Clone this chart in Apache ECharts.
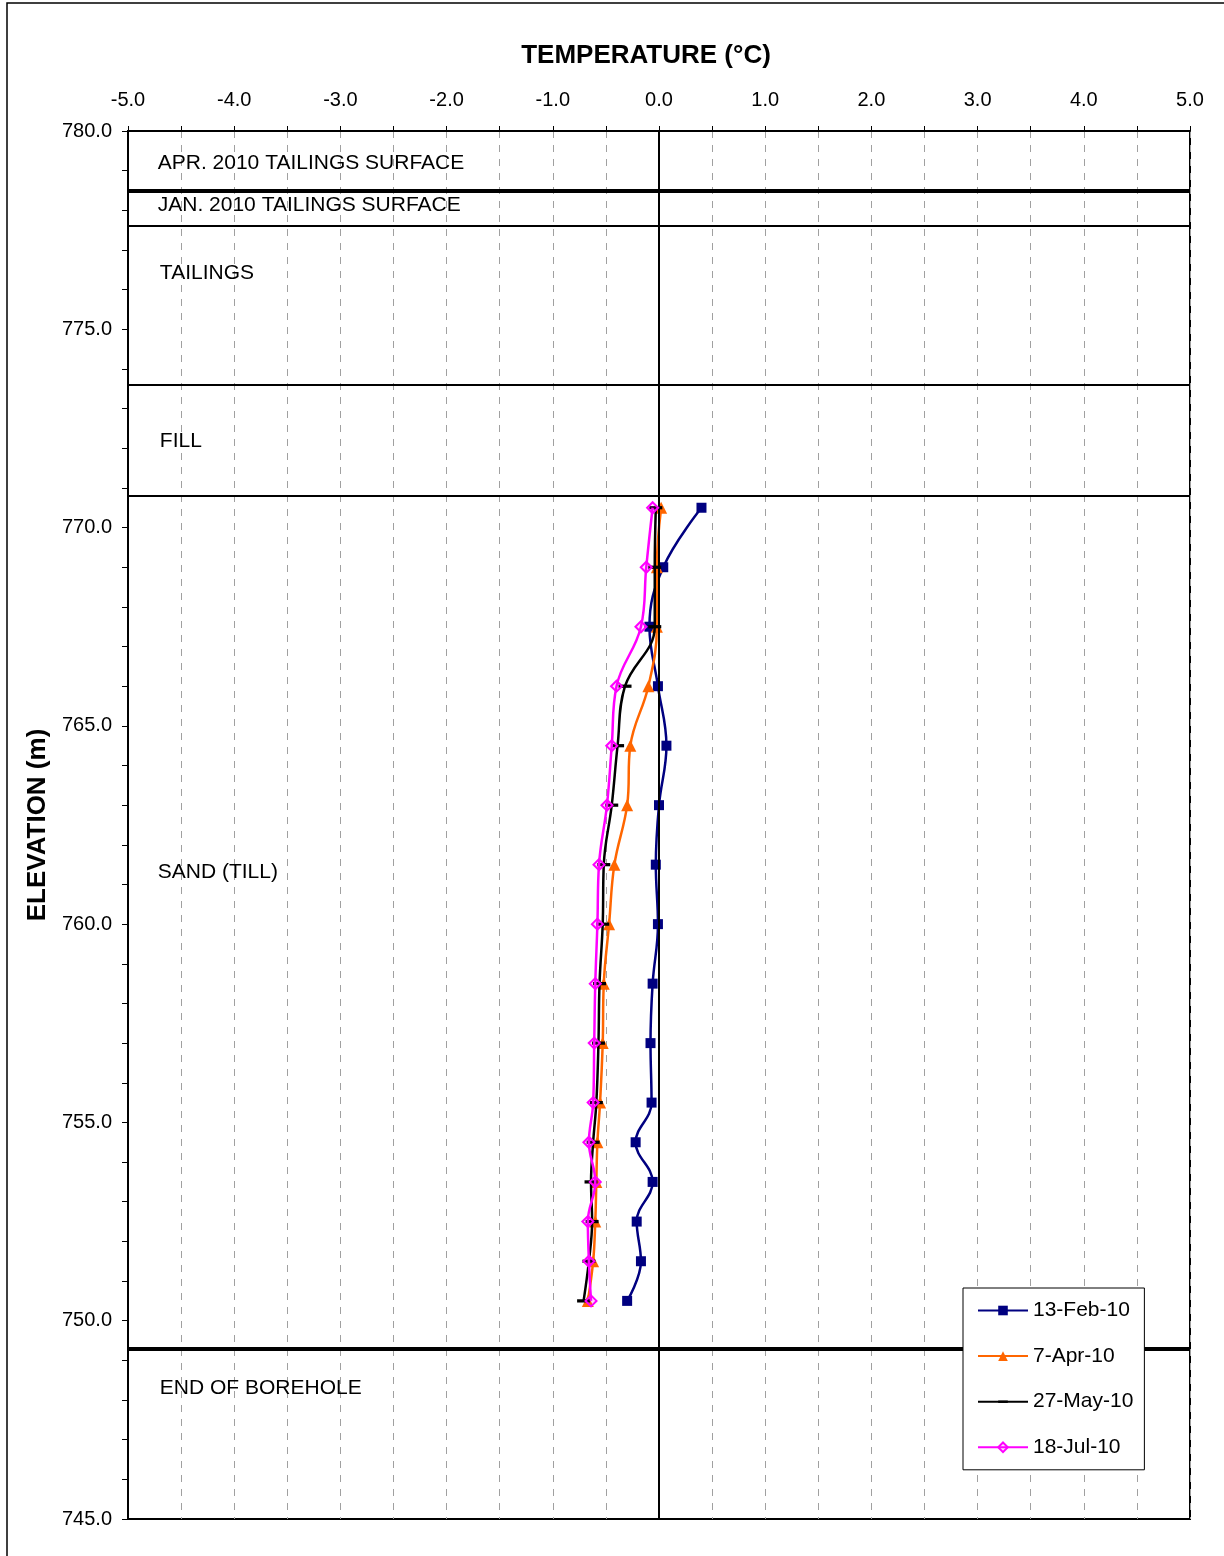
<!DOCTYPE html>
<html>
<head>
<meta charset="utf-8">
<script src="https://cdn.jsdelivr.net/npm/echarts@6/dist/echarts.min.js"></script>
<style>html,body{margin:0;padding:0;background:#fff}#chart{width:1224px;height:1556px}</style>
</head>
<body>
<div id="chart"></div>
<script>
// ---- data ----
var elevations = [770.5, 769.0, 767.5, 766.0, 764.5, 763.0, 761.5, 760.0, 758.5, 757.0, 755.5, 754.5, 753.5, 752.5, 751.5, 750.5];
var temp13Feb10 = [0.40, 0.04, -0.09, -0.01, 0.07, 0.00, -0.03, -0.01, -0.06, -0.08, -0.07, -0.22, -0.06, -0.21, -0.17, -0.30];
var temp7Apr10  = [0.02, -0.02, -0.02, -0.10, -0.27, -0.30, -0.42, -0.47, -0.52, -0.53, -0.555, -0.58, -0.59, -0.60, -0.62, -0.67];
var temp27May10 = [-0.03, -0.04, -0.04, -0.32, -0.39, -0.445, -0.52, -0.53, -0.56, -0.57, -0.59, -0.62, -0.64, -0.63, -0.66, -0.71];
var temp18Jul10 = [-0.06, -0.12, -0.17, -0.40, -0.445, -0.49, -0.565, -0.58, -0.60, -0.61, -0.62, -0.66, -0.60, -0.67, -0.66, -0.64];
var seriesNames = ['13-Feb-10', '7-Apr-10', '27-May-10', '18-Jul-10'];

var layerLinesThick = [778.5, 749.3];
var layerLinesThin = [777.6, 773.6, 770.8];
var layerNotes = ['APR. 2010 TAILINGS SURFACE', 'JAN. 2010 TAILINGS SURFACE', 'TAILINGS', 'FILL', 'SAND (TILL)', 'END OF BOREHOLE'];
var layerNoteElev = [779.19, 778.13, 776.42, 772.18, 761.32, 748.31];
var layerNoteTemp = [-4.72, -4.72, -4.70, -4.70, -4.72, -4.70];

var xMin = -5, xMax = 5, xStep = 0.5;
var yMin = 745, yMax = 780, yStep = 1;

function pairs(t) { return t.map(function (v, i) { return [v, elevations[i]]; }); }

var FONT = "'Liberation Sans', Arial, sans-serif";
var chart = echarts.init(document.getElementById('chart'), null, {renderer: 'canvas'});

var markLineData = [];
layerLinesThick.forEach(function (y) { markLineData.push({yAxis: y, lineStyle: {width: 4, color: '#000', type: 'solid'}}); });
layerLinesThin.forEach(function (y) { markLineData.push({yAxis: y, lineStyle: {width: 2, color: '#000', type: 'solid'}}); });
markLineData.push({xAxis: 0, lineStyle: {width: 2, color: '#000', type: 'solid'}});

// horizontal dash marker inside a square box (moveTo points define the box)
var dashSymbol = 'path://M0,-4.5M12,7.5M0,0h12v3h-12z';

var option = {
  backgroundColor: '#fff',
  animation: false,
  textStyle: {fontFamily: FONT, color: '#000'},
  graphic: [{
    type: 'rect', silent: true, z: -1,
    shape: {x: 7, y: 3, width: 1240, height: 1580},
    style: {fill: 'none', stroke: '#000', lineWidth: 1.5}
  }],
  grid: {left: 128, top: 131, right: 34, bottom: 37, show: true, borderColor: '#000', borderWidth: 2, backgroundColor: 'transparent'},
  legend: {
    orient: 'vertical', left: 963, top: 1288, z: 100, zlevel: 1,
    backgroundColor: '#fff', borderColor: '#000', borderWidth: 1,
    padding: [12, 11, 12, 14],
    itemWidth: 50, itemHeight: 12, itemGap: 24.6,
    textStyle: {fontFamily: FONT, fontSize: 21, color: '#000', lineHeight: 20},
    data: seriesNames
  },
  xAxis: {
    type: 'value', position: 'top', min: xMin, max: xMax, interval: xStep,
    name: 'TEMPERATURE (°C)', nameLocation: 'middle', nameGap: 62,
    nameTextStyle: {fontFamily: FONT, fontSize: 26, fontWeight: 'bold', color: '#000', padding: [0, 26, 0, 0]},
    axisLine: {show: true, onZero: false, lineStyle: {color: '#000', width: 2}},
    axisTick: {show: true, inside: false, length: 5, lineStyle: {color: '#000', width: 1}},
    axisLabel: {
      margin: 21, fontFamily: FONT, fontSize: 20, color: '#000',
      formatter: function (v) { return Math.abs(v - Math.round(v)) < 1e-9 ? v.toFixed(1) : ''; }
    },
    splitLine: {show: true, lineStyle: {color: '#a0a0a0', width: 1, type: [7, 7]}}
  },
  yAxis: {
    type: 'value', min: yMin, max: yMax, interval: yStep,
    name: 'ELEVATION (m)', nameLocation: 'middle', nameGap: 72, nameRotate: 90,
    nameTextStyle: {fontFamily: FONT, fontSize: 26, fontWeight: 'bold', color: '#000'},
    axisLine: {show: true, onZero: false, lineStyle: {color: '#000', width: 2}},
    axisTick: {show: true, inside: false, length: 6, lineStyle: {color: '#000', width: 1}},
    axisLabel: {
      margin: 16, fontFamily: FONT, fontSize: 20, color: '#000',
      formatter: function (v) { return Math.round(v) % 5 === 0 ? v.toFixed(1) : ''; }
    },
    splitLine: {show: false}
  },
  series: [
    {
      name: 'layers', type: 'scatter', silent: true, symbolSize: 0, z: 1,
      itemStyle: {opacity: 1},
      data: layerNotes.map(function (n, i) { return {name: n, value: [layerNoteTemp[i], layerNoteElev[i]]}; }),
      label: {show: true, position: 'right', distance: 0, formatter: '{b}', fontFamily: FONT, fontSize: 21, color: '#000', opacity: 1},
      markLine: {silent: true, symbol: ['none', 'none'], label: {show: false}, data: markLineData}
    },
    {
      name: seriesNames[0], type: 'line', smooth: 0.4, z: 3,
      data: pairs(temp13Feb10),
      symbol: 'rect', symbolSize: 10,
      itemStyle: {color: '#000080'},
      lineStyle: {color: '#000080', width: 2.5}
    },
    {
      name: seriesNames[1], type: 'line', smooth: 0.4, z: 4,
      data: pairs(temp7Apr10),
      symbol: 'triangle', symbolSize: 12,
      itemStyle: {color: '#ff6600'},
      lineStyle: {color: '#ff6600', width: 2.5}
    },
    {
      name: seriesNames[2], type: 'line', smooth: 0.4, z: 5,
      data: pairs(temp27May10),
      symbol: dashSymbol, symbolSize: 13,
      itemStyle: {color: '#000000'},
      lineStyle: {color: '#000000', width: 2.5}
    },
    {
      name: seriesNames[3], type: 'line', smooth: 0.4, z: 6,
      data: pairs(temp18Jul10),
      symbol: 'diamond', symbolSize: 11,
      itemStyle: {color: 'rgba(255,0,255,0.15)', borderColor: '#ff00ff', borderWidth: 2},
      lineStyle: {color: '#ff00ff', width: 2.5}
    }
  ]
};
chart.setOption(option);
</script>
</body>
</html>
